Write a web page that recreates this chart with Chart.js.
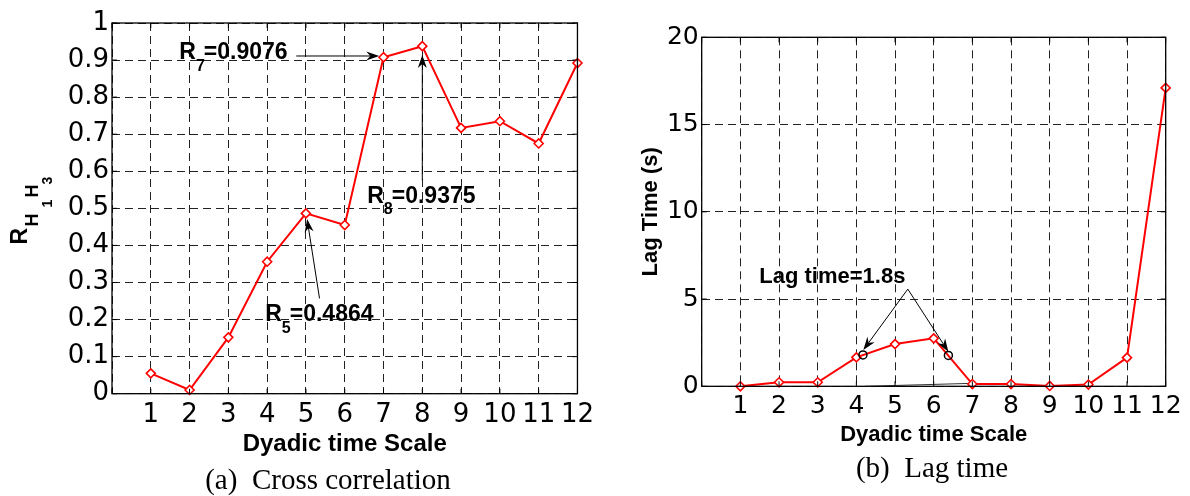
<!DOCTYPE html>
<html>
<head>
<meta charset="utf-8">
<script src="https://cdn.jsdelivr.net/npm/chart.js@4.4.1/dist/chart.umd.min.js"></script>
<style>
  html, body { margin: 0; padding: 0; background: #fff; }
  body { width: 1190px; height: 496px; position: relative; overflow: hidden; }
  canvas { position: absolute; top: 0; }
  #c1 { left: 0; }
  #c2 { left: 600px; }
  .caption { position: absolute; font-family: "Liberation Serif", "Times New Roman", serif;
             font-size: 29px; line-height: 29px; white-space: pre; color: #000; transform: translateX(-50%); }
</style>
</head>
<body>
<canvas id="c1" width="600" height="496"></canvas>
<canvas id="c2" width="590" height="496"></canvas>
<div class="caption" style="left:328px; top:465px;">(a)  Cross correlation</div>
<div class="caption" style="left:932px; top:453px;">(b)  Lag time</div>
<script>
// dyadic scales on the x axis
const scales = [1, 2, 3, 4, 5, 6, 7, 8, 9, 10, 11, 12];
const scaleLabels = ['1', '2', '3', '4', '5', '6', '7', '8', '9', '10', '11', '12'];

// (a) cross correlation R_H1H3 per scale
const crossCorr = [0.055, 0.01, 0.152, 0.356, 0.4864, 0.455, 0.9076, 0.9375, 0.717, 0.735, 0.675, 0.892];
// (b) lag time in seconds per scale
const lagTime = [0, 0.23, 0.23, 1.66, 2.42, 2.75, 0.13, 0.13, 0.02, 0.1, 1.64, 17.1];
// circles where the lag is 1.8 s
const lagMarkX = [4.17, 6.38];
const lagMarkY = [1.8, 1.77];
// thin black line near the bottom of (b)
const baseX = [4.22, 7.0];
const baseY = [0, 0.17];

const corrTicks = { min: 0, max: 1, step: 0.1 };
const lagTicks = { min: 0, max: 20, step: 5 };

// annotations, anchored in data units
const corrNotes = [
  { sub: '7', val: '0.9076', at: [1.735, 0.902], from: [4.75, 0.911], to: [6.89, 0.911] },
  { sub: '8', val: '0.9375', at: [6.58, 0.515], from: [8.0, 0.576], to: [8.0, 0.914] },
  { sub: '5', val: '0.4864', at: [3.95, 0.196], from: [5.35, 0.257], to: [5.03, 0.471] }
];
const lagNote = { text: 'Lag time=1.8s', at: [1.49, 5.9], from: [5.33, 5.57], to: [[4.18, 2.08], [6.38, 1.98]] };

const SANS = '"Liberation Sans", Arial, sans-serif';
const TICKFONT = '"DejaVu Sans", sans-serif';

const pts = (xs, ys) => xs.map((x, i) => ({ x: x, y: ys[i] }));

function arrow(ctx, x1, y1, x2, y2) {
  const a = Math.atan2(y2 - y1, x2 - x1);
  const c = Math.cos(a), s = Math.sin(a);
  const len = 13, half = 4.5, notch = 4;
  ctx.beginPath();
  ctx.moveTo(x1, y1);
  ctx.lineTo(x2 - c * (len - notch), y2 - s * (len - notch));
  ctx.stroke();
  ctx.beginPath();
  ctx.moveTo(x2, y2);
  ctx.lineTo(x2 - c * len - s * half, y2 - s * len + c * half);
  ctx.lineTo(x2 - c * (len - notch), y2 - s * (len - notch));
  ctx.lineTo(x2 - c * len + s * half, y2 - s * len - c * half);
  ctx.closePath();
  ctx.fill();
}

function frame(chart) {
  const { ctx, chartArea: a, scales: { x, y } } = chart;
  ctx.save();
  ctx.strokeStyle = '#000';
  ctx.lineWidth = 1.3;
  ctx.strokeRect(a.left, a.top, a.right - a.left, a.bottom - a.top);
  ctx.lineWidth = 1;
  ctx.beginPath();
  x.ticks.forEach(t => {
    const px = x.getPixelForValue(t.value);
    ctx.moveTo(px, a.bottom); ctx.lineTo(px, a.bottom - 5);
    ctx.moveTo(px, a.top); ctx.lineTo(px, a.top + 5);
  });
  y.ticks.forEach(t => {
    const py = y.getPixelForValue(t.value);
    ctx.moveTo(a.left, py); ctx.lineTo(a.left + 5, py);
    ctx.moveTo(a.right, py); ctx.lineTo(a.right - 5, py);
  });
  ctx.stroke();
  ctx.restore();
}

function baseOptions(cfg) {
  return {
    responsive: false,
    animation: false,
    events: [],
    layout: { padding: cfg.pad },
    plugins: { legend: { display: false }, tooltip: { enabled: false } },
    scales: {
      x: {
        type: 'linear', min: 0, max: 12,
        afterFit: s => { s.height = cfg.xh; },
        border: { display: false, dash: [8, 5] },
        grid: { color: '#222', lineWidth: 1, drawTicks: false },
        ticks: {
          stepSize: 1, autoSkip: false, maxRotation: 0, padding: cfg.xpad, color: '#000',
          font: { family: TICKFONT, size: cfg.tick },
          callback: v => (v === 0 ? '' : scaleLabels[scales.indexOf(v)])
        },
        title: { display: true, text: 'Dyadic time Scale', color: '#000', padding: 0,
                 font: { family: SANS, size: cfg.xt, weight: 'bold' } }
      },
      y: {
        min: cfg.yt.min, max: cfg.yt.max,
        afterFit: s => { s.width = cfg.yw; },
        border: { display: false, dash: [8, 5] },
        grid: { color: '#222', lineWidth: 1, drawTicks: false },
        ticks: { stepSize: cfg.yt.step, padding: 3, color: '#000',
                 font: { family: TICKFONT, size: cfg.tick },
                 callback: v => String(Number(v.toFixed(1))) },
        title: cfg.ytitle
      }
    }
  };
}

const redLine = data => ({
  data: data, borderColor: '#ff0000', borderWidth: 2, tension: 0, clip: false,
  pointStyle: 'rectRot', pointRadius: 4.5, pointBorderWidth: 1.6,
  pointBorderColor: '#ff0000', pointBackgroundColor: '#fff'
});

// ---------- (a) cross correlation ----------
const opt1 = baseOptions({
  pad: { left: 0, top: 23, right: 17.7, bottom: 36.9 },
  xh: 65.4, yw: 112, xpad: 6, tick: 26, xt: 24, yt: corrTicks,
  ytitle: { display: false }
});

new Chart(document.getElementById('c1'), {
  type: 'line',
  data: { datasets: [redLine(pts(scales, crossCorr))] },
  options: opt1,
  plugins: [{
    id: 'deco1',
    afterDraw(chart) {
      frame(chart);
      const { ctx, scales: { x, y } } = chart;
      ctx.save();
      ctx.fillStyle = '#000';
      ctx.strokeStyle = '#000';
      ctx.lineWidth = 1;
      ctx.textAlign = 'left';
      ctx.textBaseline = 'alphabetic';
      corrNotes.forEach(n => {
        const tx = x.getPixelForValue(n.at[0]), ty = y.getPixelForValue(n.at[1]);
        ctx.font = 'bold 23px ' + SANS;
        ctx.fillText('R', tx, ty);
        let w = ctx.measureText('R').width;
        ctx.font = 'bold 16px ' + SANS;
        ctx.fillText(n.sub, tx + w, ty + 11.5);
        w += ctx.measureText(n.sub).width - 1;
        ctx.font = 'bold 23px ' + SANS;
        ctx.fillText('=' + n.val, tx + w, ty);
        arrow(ctx, x.getPixelForValue(n.from[0]), y.getPixelForValue(n.from[1]),
              x.getPixelForValue(n.to[0]), y.getPixelForValue(n.to[1]));
      });
      // y title R_{H1 H3}, rotated
      ctx.translate(27.3, 244.5);
      ctx.rotate(-Math.PI / 2);
      ctx.font = 'bold 23px ' + SANS;
      ctx.fillText('R', 0, 0);
      ctx.font = 'bold 18px ' + SANS;
      ctx.fillText('H', 18, 11);
      ctx.fillText('H', 47, 11);
      ctx.font = 'bold 14px ' + SANS;
      ctx.fillText('1', 37, 24.4);
      ctx.fillText('3', 60, 24.4);
      ctx.restore();
    }
  }]
});

// ---------- (b) lag time ----------
const opt2 = baseOptions({
  pad: { left: 0, top: 37.3, right: 24.3, bottom: 48.1 },
  xh: 61.6, yw: 101.7, xpad: 5, tick: 25, xt: 22, yt: lagTicks,
  ytitle: { display: true, text: 'Lag Time (s)', color: '#000', padding: { top: 37.6, bottom: 0 },
            font: { family: SANS, size: 22, weight: 'bold' } }
});

new Chart(document.getElementById('c2'), {
  type: 'line',
  data: {
    datasets: [
      { data: pts(lagMarkX, lagMarkY), showLine: false, pointStyle: 'circle', pointRadius: 4,
        pointBorderWidth: 1.5, pointBorderColor: '#000', pointBackgroundColor: 'rgba(0,0,0,0)' },
      redLine(pts(scales, lagTime)),
      { data: pts(baseX, baseY), borderColor: '#000', borderWidth: 0.8, pointRadius: 0 }
    ]
  },
  options: opt2,
  plugins: [{
    id: 'deco2',
    afterDraw(chart) {
      frame(chart);
      const { ctx, scales: { x, y } } = chart;
      ctx.save();
      ctx.fillStyle = '#000';
      ctx.strokeStyle = '#000';
      ctx.lineWidth = 1;
      ctx.font = 'bold 22px ' + SANS;
      ctx.textAlign = 'left';
      ctx.textBaseline = 'alphabetic';
      ctx.fillText(lagNote.text, x.getPixelForValue(lagNote.at[0]), y.getPixelForValue(lagNote.at[1]));
      const fx = x.getPixelForValue(lagNote.from[0]), fy = y.getPixelForValue(lagNote.from[1]);
      lagNote.to.forEach(t => arrow(ctx, fx, fy, x.getPixelForValue(t[0]), y.getPixelForValue(t[1])));
      ctx.restore();
    }
  }]
});
</script>
</body>
</html>
